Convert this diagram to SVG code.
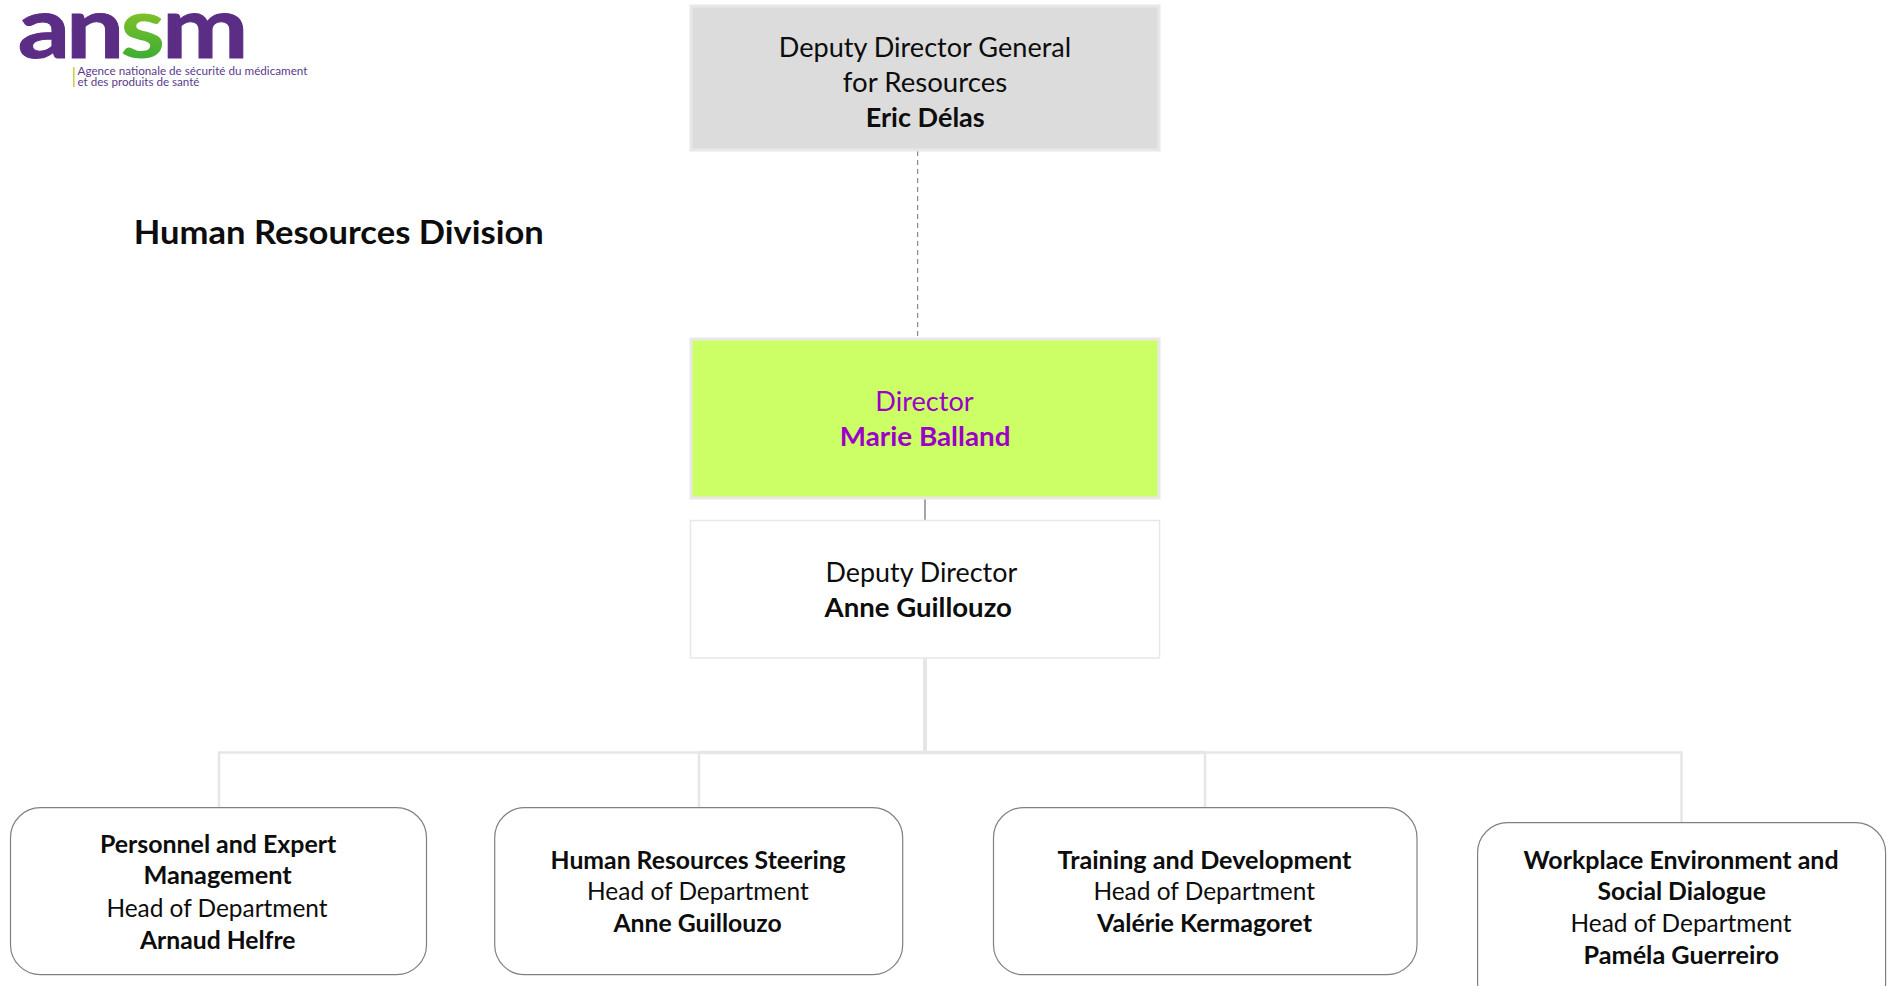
<svg xmlns="http://www.w3.org/2000/svg" width="1889" height="986" viewBox="0 0 1889 986">
<style>
text{font-family:Lato,"Liberation Sans",sans-serif;fill:#0d0d0d}
.b{font-weight:700}
.l{font-size:27px}
.s{font-size:24.5px}
.v{fill:#9c00c8}
.box{stroke:#e8e8e8;stroke-width:3}
.round{fill:#fff;stroke:#808080;stroke-width:1.2}
.c{fill:none;stroke:#e6e6e6}
.lg{font-weight:700;font-size:86px;fill:#5c2d85;stroke:#5c2d85;stroke-width:1}
.t{font-size:11.6px;fill:#5a3a8c}
</style>
<defs><linearGradient id="sg" x1="0" y1="0" x2="0" y2="1"><stop offset="0" stop-color="#b9d11f"/><stop offset="1" stop-color="#23a638"/></linearGradient></defs>
<rect width="1889" height="986" fill="#fff"/>
<g id="logo">
<text class="lg" transform="scale(1.2,1)" x="14.700 55 100 135" y="58">an<tspan style="fill:url(#sg);stroke:none">s</tspan>m</text>
<rect x="73" y="67" width="1.6" height="20" fill="#c8d44a"/>
<text class="t" x="77.500" y="75" textLength="230" lengthAdjust="spacingAndGlyphs">Agence nationale de sécurité du médicament</text>
<text class="t" x="77.500" y="86" textLength="122" lengthAdjust="spacingAndGlyphs">et des produits de santé</text>
</g>
<text id="title" class="b" x="133.800" y="244" font-size="33" textLength="410" lengthAdjust="spacingAndGlyphs">Human Resources Division</text>
<g id="connectors">
<line x1="917.700" y1="151" x2="917.700" y2="336" stroke="#6f6f6f" stroke-width="1" stroke-dasharray="5 4"/>
<line x1="925" y1="499" x2="925" y2="520" stroke="#a6a6a6" stroke-width="2"/>
<line class="c" x1="925" y1="658" x2="925" y2="754" stroke-width="4"/>
<line class="c" x1="699" y1="752.500" x2="1205" y2="752.500" stroke-width="3.500"/>
<path class="c" stroke-width="2.500" d="M219 808V752.500H699M699 752.500V808M1205 752.500V808M1205 752.500H1681.500V823"/>
</g>
<g id="n-deputy-general">
<rect class="box" x="691" y="6" width="468" height="144" fill="#dcdcdc"/>
<text class="l" x="778.800" y="56.700" textLength="292.400" lengthAdjust="spacingAndGlyphs">Deputy Director General</text>
<text class="l" x="842.800" y="92" textLength="164.400" lengthAdjust="spacingAndGlyphs">for Resources</text>
<text class="l b" x="865.800" y="126.700" textLength="118.900" lengthAdjust="spacingAndGlyphs">Eric Délas</text>
</g>
<g id="n-director">
<rect class="box" x="691" y="339" width="468" height="159" fill="#ccff66"/>
<text class="l v" x="875.300" y="411.300" textLength="98.400" lengthAdjust="spacingAndGlyphs">Director</text>
<text class="l b v" x="839.800" y="445.700" textLength="170.700" lengthAdjust="spacingAndGlyphs">Marie Balland</text>
</g>
<g id="n-deputy">
<rect x="690.500" y="520.500" width="469" height="137.500" fill="#fff" stroke="#e8e8e8" stroke-width="1.500"/>
<text class="l" x="825.500" y="581.700" textLength="191.700" lengthAdjust="spacingAndGlyphs">Deputy Director</text>
<text class="l b" x="824.500" y="616.700" textLength="187.400" lengthAdjust="spacingAndGlyphs">Anne Guillouzo</text>
</g>
<g id="n-personnel">
<rect class="round" x="10.500" y="807.700" width="416" height="167" rx="30"/>
<text class="s b" x="99.900" y="852.500" textLength="236.400" lengthAdjust="spacingAndGlyphs">Personnel and Expert</text>
<text class="s b" x="143.400" y="884.200" textLength="148.300" lengthAdjust="spacingAndGlyphs">Management</text>
<text class="s" x="106.400" y="916.500" textLength="221.100" lengthAdjust="spacingAndGlyphs">Head of Department</text>
<text class="s b" x="140" y="948.500" textLength="155.400" lengthAdjust="spacingAndGlyphs">Arnaud Helfre</text>
</g>
<g id="n-steering">
<rect class="round" x="494.700" y="807.700" width="408" height="167" rx="30"/>
<text class="s b" x="550.600" y="868.500" textLength="295.100" lengthAdjust="spacingAndGlyphs">Human Resources Steering</text>
<text class="s" x="587" y="900" textLength="221.700" lengthAdjust="spacingAndGlyphs">Head of Department</text>
<text class="s b" x="613.400" y="932.200" textLength="168.300" lengthAdjust="spacingAndGlyphs">Anne Guillouzo</text>
</g>
<g id="n-training">
<rect class="round" x="993.500" y="807.700" width="423.500" height="167" rx="30"/>
<text class="s b" x="1057.600" y="868.500" textLength="293.900" lengthAdjust="spacingAndGlyphs">Training and Development</text>
<text class="s" x="1093.400" y="900" textLength="221.600" lengthAdjust="spacingAndGlyphs">Head of Department</text>
<text class="s b" x="1096.900" y="932.200" textLength="215.100" lengthAdjust="spacingAndGlyphs">Valérie Kermagoret</text>
</g>
<g id="n-workplace">
<rect class="round" x="1477.600" y="822.700" width="408" height="190" rx="30"/>
<text class="s b" x="1523.600" y="868.500" textLength="315" lengthAdjust="spacingAndGlyphs">Workplace Environment and</text>
<text class="s b" x="1597.500" y="900" textLength="168.400" lengthAdjust="spacingAndGlyphs">Social Dialogue</text>
<text class="s" x="1570.500" y="932.200" textLength="221" lengthAdjust="spacingAndGlyphs">Head of Department</text>
<text class="s b" x="1583.500" y="964.300" textLength="195.500" lengthAdjust="spacingAndGlyphs">Paméla Guerreiro</text>
</g>
</svg>
